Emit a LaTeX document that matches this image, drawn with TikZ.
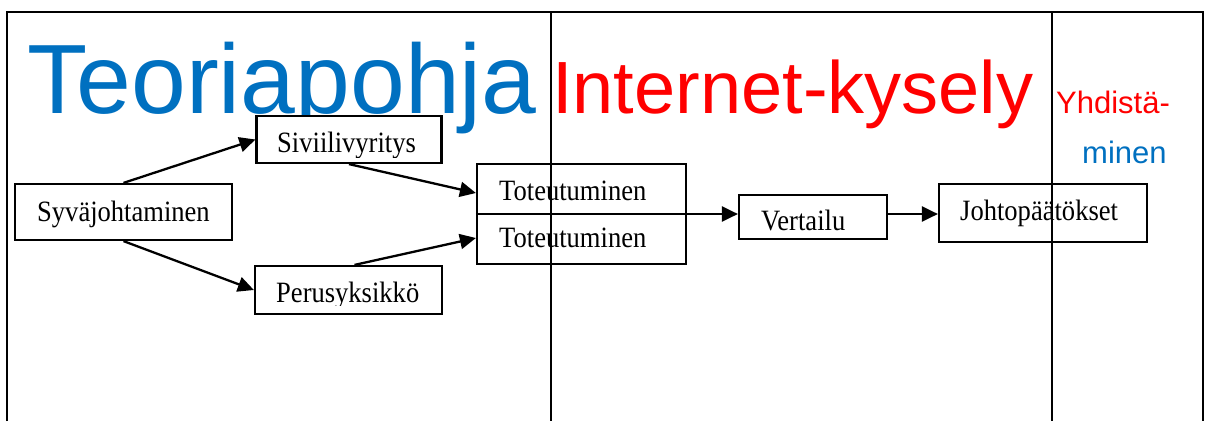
\documentclass[tikz,border=0pt]{standalone}
\usepackage{fontspec}
\setmainfont{Liberation Serif}
\newfontfamily\headfont{Liberation Sans}
\newfontfamily\boxfont[FakeStretch=0.9]{Liberation Serif}
\usetikzlibrary{arrows.meta}
\definecolor{headblue}{RGB}{0,112,192}
\definecolor{headred}{RGB}{255,0,0}
\begin{document}
\begin{tikzpicture}[x=1pt,y=-1pt,
  frame/.style={line width=1.8pt},
  box/.style={draw,line width=2.2pt,rectangle,inner sep=0pt,fill=white},
  lbl/.style={inner sep=0pt,anchor=base west,font=\boxfont\fontsize{29.5}{29.5}\selectfont},
  link/.style={line width=2.3pt,-{Triangle[length=16pt,width=15pt]}},
  head/.style={inner sep=0pt,anchor=base west}]
\useasboundingbox (0,0) rectangle (1210,421);
% column headings
\node[head,text=headblue,font=\headfont\fontsize{98.5}{98.5}\selectfont] (h1) at (27,113) {Teoriapohja};
\node[head,text=headred,font=\headfont\fontsize{74}{74}\selectfont] (h2) at (552,113) {Internet-kysely};
\node[head,text=headred,font=\headfont\fontsize{31}{31}\selectfont] (h3) at (1056,113) {Yhdistä-};
\node[head,text=headblue,font=\headfont\fontsize{31}{31}\selectfont] (h4) at (1082,163) {minen};
% boxes
\node[box,minimum width=217pt,minimum height=56pt] (syv) at (123.5,212) {};
\node[box,minimum width=185pt,minimum height=47pt] (siv) at (349,139.5) {};
\node[box,minimum width=187pt,minimum height=48pt] (per) at (348.5,290) {};
\node[box,minimum width=209pt,minimum height=100pt] (tot) at (581.5,214) {};
\node[box,minimum width=148pt,minimum height=44pt] (ver) at (813,217) {};
\node[box,minimum width=208pt,minimum height=58pt] (joh) at (1043,213) {};
\draw[line width=2.2pt] (tot.west) -- (tot.east);
% box labels (some text frames cut off their lower edge)
\node[lbl] (tsyv) at (37,221) {Syväjohtaminen};
\begin{scope}
  \clip (260,118) rectangle (438,157);
  \node[lbl] (tsiv) at (277,152) {Siviilivyritys};
\end{scope}
\begin{scope}
  \clip (260,268) rectangle (438,305.5);
  \node[lbl] (tper) at (276,302) {Perusyksikkö};
\end{scope}
\node[lbl] (ttot1) at (499,200) {Toteutuminen};
\node[lbl] (ttot2) at (499,247) {Toteutuminen};
\begin{scope}
  \clip (742,198) rectangle (883,231.5);
  \node[lbl] (tver) at (761,230) {Vertailu};
\end{scope}
\node[lbl] (tjoh) at (960,220) {Johtopäätökset};
% connectors
\draw[link] (syv.north) -- (siv.west);
\draw[link] (syv.south) -- (per.west);
\draw[link] (siv.south) -- ([yshift=21pt]tot.west);
\draw[link] ([xshift=6pt]per.north) -- ([yshift=-24pt]tot.west);
\draw[link] (tot.east) -- (ver.west |- tot.east);
\draw[link] (ver.east |- tot.east) -- (joh.west |- tot.east);
% page frame and column separators, on top
\draw[frame] (7,421) -- (7,12) -- (1203,12) -- (1203,421);
\draw[frame] (551,12) -- (551,421);
\draw[frame] (1052,12) -- (1052,421);
\end{tikzpicture}
\end{document}
